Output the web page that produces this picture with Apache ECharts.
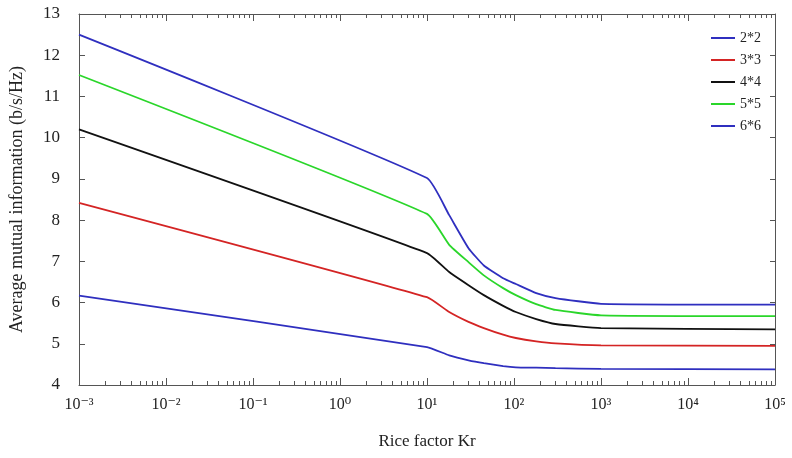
<!DOCTYPE html>
<html>
<head>
<meta charset="utf-8">
<script src="https://cdn.jsdelivr.net/npm/echarts@6/dist/echarts.min.js"></script>
<style>
  html, body { margin: 0; padding: 0; background: #fff; }
  #chart { width: 792px; height: 458px; }
</style>
</head>
<body>
<div id="chart"></div>
<script>
// Rice factor samples (log axis)
const kr = [0.001, 10, 18, 30, 45, 75, 105, 180, 300, 1000, 100000];

// average mutual information per antenna config
const mi2x2 = [6.17, 4.92, 4.72, 4.60, 4.53, 4.46, 4.43, 4.42, 4.41, 4.39, 4.38];
const mi3x3 = [8.42, 6.13, 5.77, 5.53, 5.38, 5.22, 5.14, 5.06, 5.01, 4.96, 4.95];
const mi4x4 = [10.2, 7.20, 6.74, 6.42, 6.18, 5.92, 5.77, 5.60, 5.48, 5.38, 5.35];
const mi5x5 = [11.52, 8.15, 7.40, 6.98, 6.66, 6.35, 6.18, 5.96, 5.82, 5.69, 5.67];
const mi6x6 = [12.5, 9.02, 8.12, 7.32, 6.90, 6.59, 6.45, 6.23, 6.11, 5.97, 5.95];

const seriesNames = ['2*2', '3*3', '4*4', '5*5', '6*6'];
const seriesColors = ['#2f2fbf', '#d42424', '#111111', '#2ad62a', '#2f2fbf'];
const seriesValues = [mi2x2, mi3x3, mi4x4, mi5x5, mi6x6];

const decades = [0.001, 0.01, 0.1, 1, 10, 100, 1000, 10000, 100000];
const supers = { '-3': '⁻³', '-2': '⁻²', '-1': '⁻¹', '0': '⁰', '1': '¹', '2': '²', '3': '³', '4': '⁴', '5': '⁵' };

// minor tick positions 2..9 inside each decade
const minorTicks = [];
decades.slice(0, -1).forEach(d => {
  for (let k = 2; k <= 9; k++) minorTicks.push(+(d * k).toPrecision(3));
});

const font = '"Liberation Serif", "DejaVu Serif", serif';
const axisColor = '#555';

const chart = echarts.init(document.getElementById('chart'));

const xBase = {
  type: 'log',
  logBase: 10,
  min: 0.001,
  max: 100000,
  gridIndex: 0,
  splitLine: { show: false }
};

const option = {
  animation: false,
  backgroundColor: '#fff',
  grid: { left: 77, right: 17, top: 14, bottom: 73 },
  legend: {
    orient: 'vertical',
    right: 26,
    top: 26,
    icon: 'rect',
    itemWidth: 24,
    itemHeight: 2,
    itemGap: 8,
    data: seriesNames.map(n => ({ name: n })),
    textStyle: { fontFamily: font, fontSize: 14, color: '#222' }
  },
  xAxis: [
    Object.assign({}, xBase, {
      position: 'bottom',
      name: 'Rice factor Kr',
      nameLocation: 'middle',
      nameGap: 48,
      nameTextStyle: { fontFamily: font, fontSize: 17, color: '#222' },
      axisLine: { lineStyle: { color: axisColor, width: 1 } },
      axisTick: { inside: true, length: 7, lineStyle: { color: axisColor } },
      axisLabel: {
        margin: 12,
        fontFamily: font,
        fontSize: 16,
        color: '#222',
        formatter: v => {
          const e = Math.round(Math.log10(v));
          return '10' + supers[String(e)];
        }
      }
    }),
    Object.assign({}, xBase, {
      position: 'bottom',
      axisLine: { show: false },
      axisLabel: { show: false },
      axisTick: { inside: true, length: 4, customValues: minorTicks, lineStyle: { color: axisColor } }
    }),
    Object.assign({}, xBase, {
      position: 'top',
      axisLine: { show: true, lineStyle: { color: axisColor, width: 1 } },
      axisLabel: { show: false },
      axisTick: { inside: true, length: 7, lineStyle: { color: axisColor } }
    }),
    Object.assign({}, xBase, {
      position: 'top',
      axisLine: { show: false },
      axisLabel: { show: false },
      axisTick: { inside: true, length: 4, customValues: minorTicks, lineStyle: { color: axisColor } }
    })
  ],
  yAxis: [
    {
      type: 'value',
      min: 4,
      max: 13,
      interval: 1,
      position: 'left',
      name: 'Average mutual information (b/s/Hz)',
      nameLocation: 'middle',
      nameGap: 53,
      nameTextStyle: { fontFamily: font, fontSize: 18, color: '#222' },
      splitLine: { show: false },
      axisLine: { show: true, lineStyle: { color: axisColor, width: 1 } },
      axisTick: { show: true, inside: true, length: 6, lineStyle: { color: axisColor } },
      axisLabel: { margin: 19, fontFamily: font, fontSize: 17, color: '#222' }
    },
    {
      type: 'value',
      min: 4,
      max: 13,
      interval: 1,
      position: 'right',
      splitLine: { show: false },
      axisLine: { show: true, lineStyle: { color: axisColor, width: 1 } },
      axisTick: { show: true, inside: true, length: 5, lineStyle: { color: axisColor } },
      axisLabel: { show: false }
    }
  ],
  series: seriesNames.map((name, i) => ({
    name: name,
    type: 'line',
    xAxisIndex: 0,
    yAxisIndex: 0,
    symbol: 'none',
    smooth: 0.15,
    color: seriesColors[i],
    lineStyle: { width: 1.8, color: seriesColors[i] },
    data: kr.map((x, j) => [x, seriesValues[i][j]])
  }))
};

chart.setOption(option);
</script>
</body>
</html>
